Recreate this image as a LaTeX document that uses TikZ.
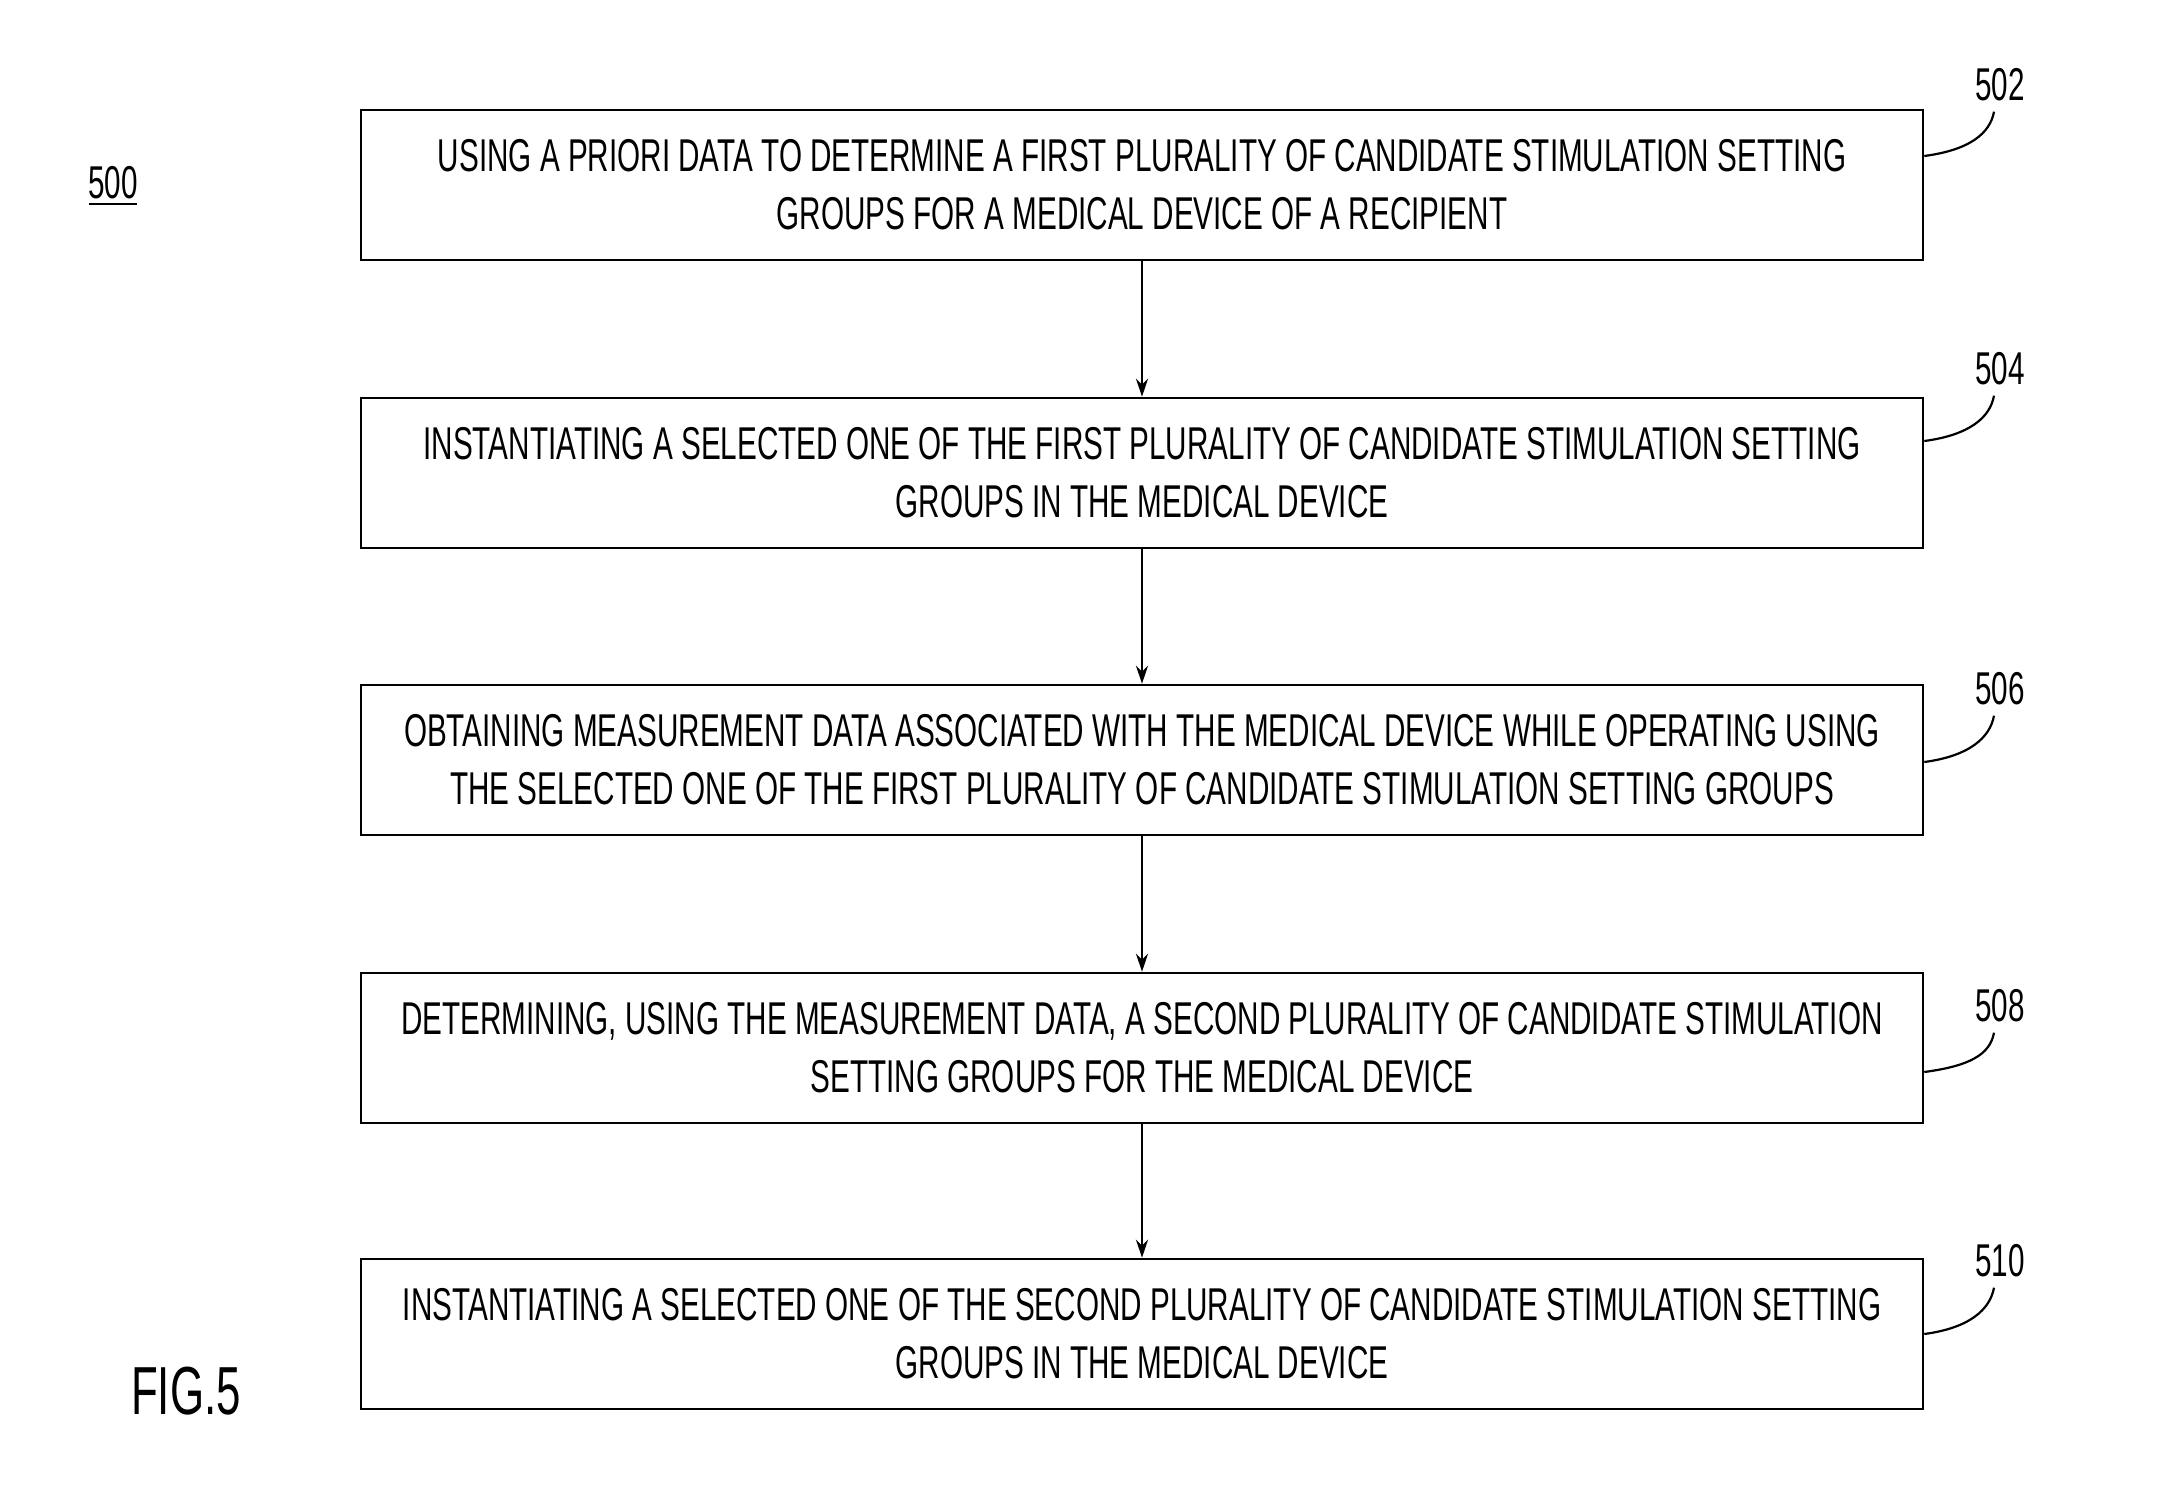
\documentclass[tikz,border=0pt]{standalone}
\usepackage{fontspec}
\setmainfont[FakeStretch=0.645]{Liberation Sans}
\usetikzlibrary{calc,arrows.meta}
\tikzset{
  stepbox/.style={draw, line width=1.3pt, minimum width=781pt, minimum height=75pt, align=center, font=\fontsize{23}{29}\selectfont, inner sep=0pt},
  flow/.style={line width=1.3pt, -{Stealth[length=9pt,width=6pt]}},
  lead/.style={line width=1.1pt},
  reflab/.style={font=\fontsize{23}{26}\selectfont, inner sep=2pt}
}
\begin{document}
\begin{tikzpicture}[x=0.5pt,y=-0.5pt]
\useasboundingbox (0,0) rectangle (2160,1490);
\node[stepbox] (b1) at (1142,185) {USING A PRIORI DATA TO DETERMINE A FIRST PLURALITY OF CANDIDATE STIMULATION SETTING\\GROUPS FOR A MEDICAL DEVICE OF A RECIPIENT};
\node[stepbox] (b2) at (1142,473) {INSTANTIATING A SELECTED ONE OF THE FIRST PLURALITY OF CANDIDATE STIMULATION SETTING\\GROUPS IN THE MEDICAL DEVICE};
\node[stepbox] (b3) at (1142,760) {OBTAINING MEASUREMENT DATA ASSOCIATED WITH THE MEDICAL DEVICE WHILE OPERATING USING\\THE SELECTED ONE OF THE FIRST PLURALITY OF CANDIDATE STIMULATION SETTING GROUPS};
\node[stepbox] (b4) at (1142,1048) {DETERMINING, USING THE MEASUREMENT DATA, A SECOND PLURALITY OF CANDIDATE STIMULATION\\SETTING GROUPS FOR THE MEDICAL DEVICE};
\node[stepbox] (b5) at (1142,1334) {INSTANTIATING A SELECTED ONE OF THE SECOND PLURALITY OF CANDIDATE STIMULATION SETTING\\GROUPS IN THE MEDICAL DEVICE};
\draw[flow] (b1) -- (b2);
\draw[flow] (b2) -- (b3);
\draw[flow] (b3) -- (b4);
\draw[flow] (b4) -- (b5);
\node[reflab] (l502) at (2000,85) {502};
\node[reflab] (l504) at (2000,369) {504};
\node[reflab] (l506) at (2000,689) {506};
\node[reflab] (l508) at (2000,1006) {508};
\node[reflab] (l510) at (2000,1261) {510};
\foreach \b/\l/\o in {b1/l502/-29, b2/l504/-32, b3/l506/2, b4/l508/24, b5/l510/0}{
  \coordinate (s) at ($(\b.east)+(0,\o)$);
  \coordinate (e) at ($(\l.south)+(-6,6)$);
  \draw[lead] (s) .. controls ($(s)+(45,-6)$) and ($(e)+(-4,22)$) .. (e);
}
\node[reflab] (l500) at (113,183) {500};
\draw[line width=1.1pt] ($(l500.south west)+(5,0)$) -- ($(l500.south east)+(-5,0)$);
\node[font=\fontsize{34}{40}\selectfont] (fig) at (186,1391) {FIG.5};
\end{tikzpicture}
\end{document}
